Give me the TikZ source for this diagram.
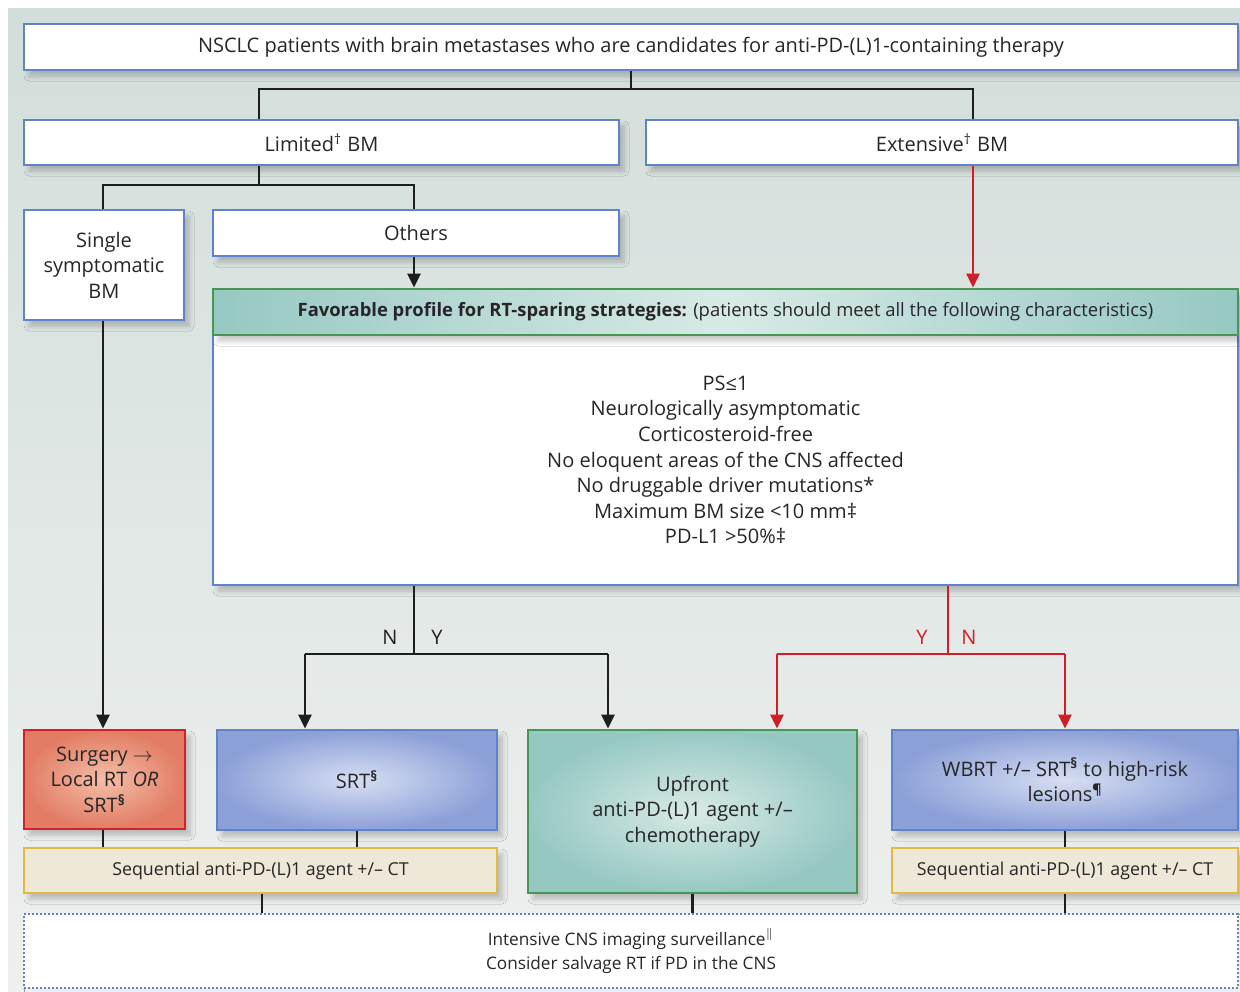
\documentclass[tikz,border=0pt]{standalone}
\usepackage{fontspec}
\setmainfont{Open Sans}
\usetikzlibrary{arrows.meta,shadows.blur}

\definecolor{bgtop}{RGB}{210,222,219}
\definecolor{bgbot}{RGB}{238,240,238}
\definecolor{boxblue}{RGB}{96,130,202}
\definecolor{boxgreen}{RGB}{72,150,84}
\definecolor{boxred}{RGB}{212,32,40}
\definecolor{boxyellow}{RGB}{226,186,64}
\definecolor{beige}{RGB}{238,232,216}
\definecolor{tealdark}{RGB}{150,200,194}
\definecolor{teallight}{RGB}{216,234,230}
\definecolor{bluedark}{RGB}{140,160,216}
\definecolor{bluelight}{RGB}{214,222,242}
\definecolor{salmondark}{RGB}{226,124,100}
\definecolor{salmonlight}{RGB}{244,190,168}
\definecolor{txtgray}{RGB}{38,38,38}
\definecolor{linegray}{RGB}{30,30,30}
\definecolor{linered}{RGB}{208,30,40}

\newcommand{\fnsec}{\textsuperscript{\textbf{§}}}

\tikzset{
  box/.style={draw=boxblue, line width=1.4pt, fill=white, align=center,
    inner sep=2pt, text=txtgray,
    blur shadow={shadow xshift=2.5pt, shadow yshift=-3pt,
      shadow blur radius=2.5pt, shadow blur steps=8, shadow opacity=22}},
  bluebox/.style={box, inner color=bluelight, outer color=bluedark},
  tealbox/.style={box, draw=boxgreen, inner color=teallight, outer color=tealdark},
  redbox/.style={box, draw=boxred, inner color=salmonlight, outer color=salmondark},
  seqbox/.style={box, draw=boxyellow, fill=beige, font=\fontsize{8.9}{12}\selectfont},
  flow/.style={line width=1.3pt, draw=linegray},
  arrow/.style={flow, -{Triangle[width=6.5pt,length=7pt]}},
  redflow/.style={flow, draw=linered},
  redarrow/.style={arrow, draw=linered},
  lbl/.style={text=linegray, inner sep=0pt},
}

\begin{document}
\begin{tikzpicture}[x=0.5pt, y=-0.5pt, font=\fontsize{10}{12.8}\selectfont]
\useasboundingbox (0,0) rectangle (1240,991);
% background
\fill[top color=bgtop, bottom color=bgbot] (8,8) rectangle (1240,991);

% top levels
\node[box, minimum width=607pt, minimum height=23pt] (top) at (631,47)
  {NSCLC patients with brain metastases who are candidates for anti-PD-(L)1-containing therapy};
\node[box, minimum width=297.5pt, minimum height=22.5pt] (lim) at (321.5,142.5)
  {Limited\textsuperscript{†} BM};
\node[box, minimum width=296pt, minimum height=22.5pt] (ext) at (942,142.5)
  {Extensive\textsuperscript{†} BM};
\node[box, minimum width=80pt, minimum height=55pt] (sin) at (104,265)
  {Single\\symptomatic\\BM};
\node[box, minimum width=203pt, minimum height=23pt] (oth) at (416,233) {Others};

% profile
\node[box, minimum width=512.5pt, minimum height=125pt] (crit) at (725.5,460)
  {PS≤1\\Neurologically asymptomatic\\Corticosteroid-free\\No eloquent areas of the CNS affected\\
   No druggable driver mutations*\\Maximum BM size <10 mm‡\\PD-L1 >50\%‡};
\node[box, draw=boxgreen, left color=tealdark, right color=tealdark, middle color=teallight,
  font=\fontsize{9.2}{12}\selectfont,
  minimum width=512.5pt, minimum height=23pt] (fav) at (725.5,312)
  {\textbf{Favorable profile for RT-sparing strategies:} (patients should meet all the following characteristics)};

% treatments
\node[redbox, minimum width=80.5pt, minimum height=49.5pt] (surg) at (104.5,779.5)
  {Surgery $\rightarrow$\\Local RT \textit{OR}\\SRT\fnsec};
\node[bluebox, minimum width=140pt, minimum height=50pt] (srt) at (357,780)
  {SRT\fnsec};
\node[tealbox, minimum width=164.5pt, minimum height=81.5pt] (upf) at (692.5,811.5)
  {Upfront\\anti-PD-(L)1 agent +/–\\chemotherapy};
\node[bluebox, minimum width=173pt, minimum height=50pt] (wbrt) at (1065,780)
  {WBRT +/– SRT\fnsec{} to high-risk\\lesions\textsuperscript{\textbf{¶}}};
\node[seqbox, minimum width=236.5pt, minimum height=22.5pt] (seql) at (260.5,870.5)
  {Sequential anti-PD-(L)1 agent +/– CT};
\node[seqbox, minimum width=173pt, minimum height=22.5pt] (seqr) at (1065,870.5)
  {Sequential anti-PD-(L)1 agent +/– CT};
\node[box, draw=boxblue, dash pattern=on 0.9pt off 1.1pt, line width=1.4pt,
  blur shadow={shadow opacity=0}, font=\fontsize{8.6}{11.8}\selectfont,
  minimum width=607pt, minimum height=37pt] (img) at (631,951)
  {Intensive CNS imaging surveillance$^{\|}$\\Consider salvage RT if PD in the CNS};

% junctions
\coordinate (jLim) at (259,89);
\coordinate (jExt) at (973,89);
\coordinate (jSin) at (103,185);
\coordinate (jOth) at (414,185);
\coordinate (jN) at (414,654);
\coordinate (jSrt) at (305,654);
\coordinate (jUpf) at (608,654);
\coordinate (jR) at (948,654);
\coordinate (jRu) at (777,654);
\coordinate (jRw) at (1065,654);
\coordinate (jSeq) at (262,914);

% connectors
\draw[flow] (top.south) |- (jLim) -- (jLim |- lim.north);
\draw[flow] (top.south) |- (jExt) -- (jExt |- ext.north);
\draw[flow] (jLim |- lim.south) -- (jLim |- jSin);
\draw[flow] (jSin |- sin.north) -- (jSin) -- (jOth) -- (jOth |- oth.north);
\draw[arrow] (jOth |- oth.south) -- (jOth |- fav.north);
\draw[redarrow] (jExt |- ext.south) -- (jExt |- fav.north);
\draw[arrow] (jSin |- sin.south) -- (jSin |- surg.north);

\draw[flow] (jN |- crit.south) -- (jN);
\draw[flow] (jSrt) -- (jUpf);
\draw[arrow] (jSrt) -- (jSrt |- srt.north);
\draw[arrow] (jUpf) -- (jUpf |- upf.north);
\draw[redflow] (jR |- crit.south) -- (jR);
\draw[redflow] (jRu) -- (jRw);
\draw[redarrow] (jRu) -- (jRu |- upf.north);
\draw[redarrow] (jRw) -- (jRw |- wbrt.north);

\draw[flow] (jSin |- surg.south) -- (jSin |- seql.north);
\draw[flow] (srt.south) -- (srt.south |- seql.north);
\draw[flow] (wbrt.south) -- (seqr.north);
\draw[flow] (jSeq |- seql.south) -- (jSeq |- img.north);
\draw[flow] (upf.south) -- (upf.south |- img.north);
\draw[flow] (seqr.south) -- (seqr.south |- img.north);

% branch labels
\node[lbl] (lN) at (390,637) {N};
\node[lbl] (lY) at (437,637) {Y};
\node[lbl, text=linered] (rY) at (922,637) {Y};
\node[lbl, text=linered] (rN) at (969,637) {N};
\end{tikzpicture}
\end{document}
